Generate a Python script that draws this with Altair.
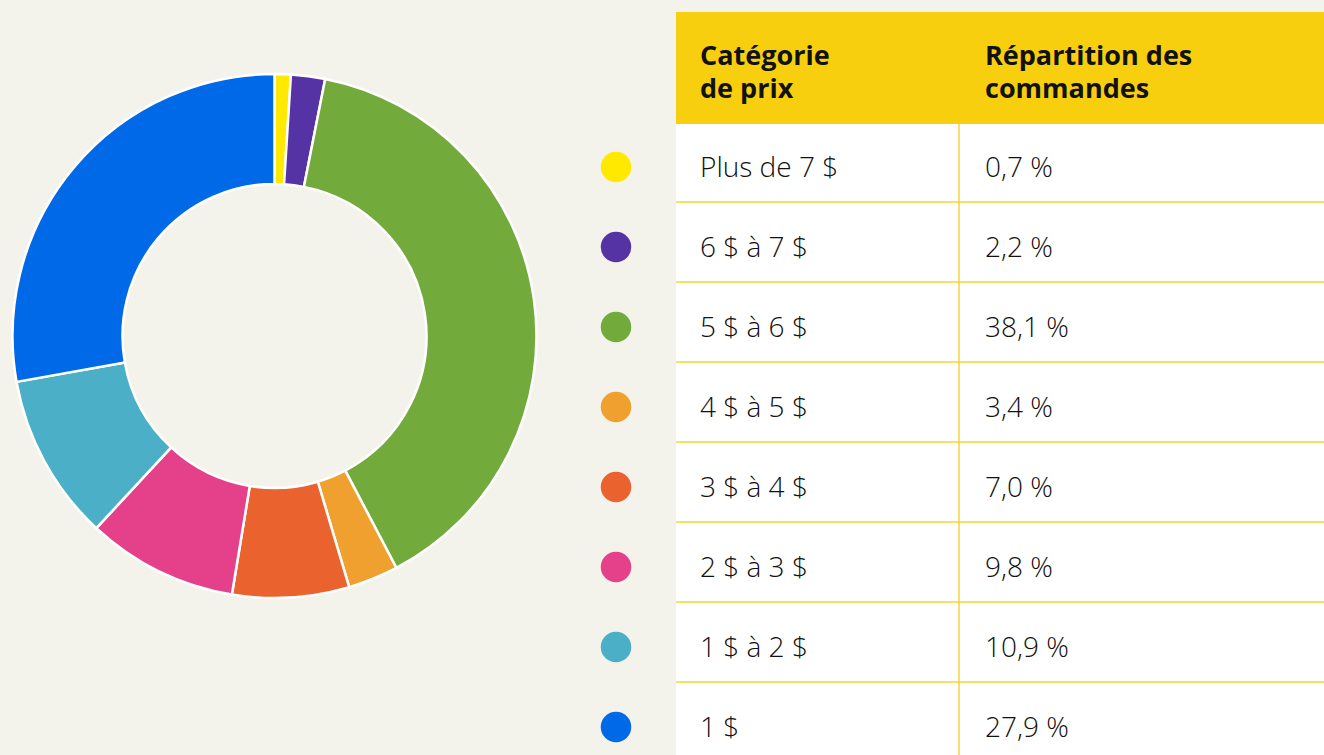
import altair as alt
import pandas as pd

categories = ["Plus de 7 $", "6 $ à 7 $", "5 $ à 6 $", "4 $ à 5 $", "3 $ à 4 $", "2 $ à 3 $", "1 $ à 2 $", "1 $"]
share_labels = ["0,7 %", "2,2 %", "38,1 %", "3,4 %", "7,0 %", "9,8 %", "10,9 %", "27,9 %"]
# slice sizes as drawn in the donut (in %)
arc_sizes = [1.0, 2.1, 39.2, 3.1, 7.2, 9.3, 10.3, 27.8]
colors = ["#FFE900", "#5533A5", "#72AB3C", "#F0A02E", "#EA622E", "#E5418B", "#4AAFC7", "#0069E8"]
header_col1 = ["Catégorie", "de prix"]
header_col2 = ["Répartition des", "commandes"]

W, H = 1324, 755
BG = "#F4F3EB"
YEL = "#F8CF0E"
LINE = "#F9D23A"
FONT = "Open Sans"

n = len(categories)
df = pd.DataFrame({
    "idx": list(range(n)),
    "cat": categories,
    "share": arc_sizes,
    "label": share_labels,
})
df["ytext"] = 177 + 80 * df["idx"]
df["ydot"] = 167 + 80 * df["idx"]
df["ybot"] = 202 + 80 * df["idx"]

xs = alt.Scale(domain=[0, W])
ys = alt.Scale(domain=[0, H], reverse=True)
cscale = alt.Scale(domain=categories, range=colors)

base = alt.Chart(df)

donut = base.mark_arc(radius=262, radius2=152, stroke="white", strokeWidth=2.5).encode(
    theta=alt.Theta("share:Q", stack=True),
    order=alt.Order("idx:Q"),
    color=alt.Color("cat:N", scale=cscale, legend=None),
    x=alt.value(274.5),
    y=alt.value(336),
)

frame = pd.DataFrame({"x": [676, 676], "x2": [W, W], "y": [12, 124], "y2": [124, H], "c": [YEL, "white"]})
rects = alt.Chart(frame).mark_rect().encode(
    x=alt.X("x:Q", scale=xs, axis=None),
    x2="x2:Q",
    y=alt.Y("y:Q", scale=ys, axis=None),
    y2="y2:Q",
    color=alt.Color("c:N", scale=None),
)

hlines = base.transform_filter("datum.idx < 7").mark_rule(color=LINE, strokeWidth=1.5).encode(
    x=alt.value(676), x2=alt.value(W),
    y=alt.Y("ybot:Q", scale=ys, axis=None),
)
vline = alt.Chart(pd.DataFrame({"y": [124], "y2": [H]})).mark_rule(color=LINE, strokeWidth=1.5).encode(
    x=alt.value(959),
    y=alt.Y("y:Q", scale=ys, axis=None), y2="y2:Q",
)

dots = base.mark_circle(size=930, opacity=1).encode(
    x=alt.value(616),
    y=alt.Y("ydot:Q", scale=ys, axis=None),
    color=alt.Color("cat:N", scale=cscale, legend=None),
)

t1 = base.mark_text(align="left", baseline="alphabetic", font=FONT, fontSize=28, fontWeight=300, color="#111111").encode(
    x=alt.value(700), y=alt.Y("ytext:Q", scale=ys, axis=None), text="cat:N")
t2 = base.mark_text(align="left", baseline="alphabetic", font=FONT, fontSize=28, fontWeight=300, color="#111111").encode(
    x=alt.value(985), y=alt.Y("ytext:Q", scale=ys, axis=None), text="label:N")

hdr = pd.DataFrame({
    "x": [700, 700, 985, 985],
    "line": [0, 1, 0, 1],
    "t": header_col1 + header_col2,
})
hdr["y"] = 65 + 33 * hdr["line"]
heads = alt.Chart(hdr).mark_text(align="left", baseline="alphabetic", font=FONT, fontSize=27, fontWeight="bold",
                                 color="#111111").encode(
    x=alt.X("x:Q", scale=xs, axis=None), y=alt.Y("y:Q", scale=ys, axis=None), text="t:N")

chart = alt.layer(rects, hlines, vline, donut, dots, t1, t2, heads).properties(
    width=W, height=H, background=BG, padding=0,
    autosize=alt.AutoSizeParams(type="none"),
).configure_view(stroke=None)

chart.save("out.html", embed_options={"renderer": "svg", "actions": False})
